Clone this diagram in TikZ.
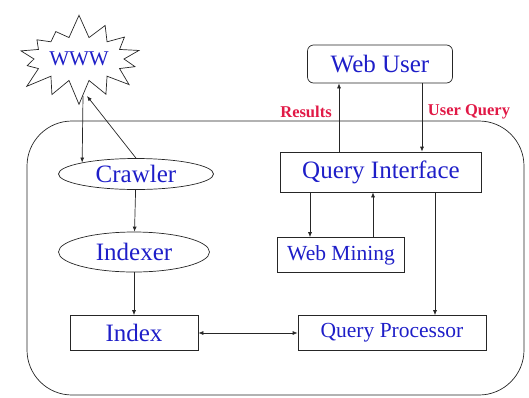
\documentclass[tikz,border=0pt]{standalone}
\usepackage{fontspec}
\setmainfont{Liberation Serif}
\usepackage{tikz}
\usetikzlibrary{arrows.meta}
\usetikzlibrary{shapes.geometric}
\usetikzlibrary{shapes.symbols}

\definecolor{labelblue}{RGB}{30,30,200}
\definecolor{labelred}{RGB}{225,25,70}

\begin{document}
\begin{tikzpicture}[x=1pt,y=-1pt,>={Latex[length=5pt,width=4pt]},black!85,line width=0.7pt,
  every node/.style = {align=center, text=labelblue, draw=black!85, line width=0.7pt},
  big/.style = {font=\fontsize{25}{28}\selectfont},
  small/.style = {font=\fontsize{21.5}{24}\selectfont},
  oval/.style = {ellipse, inner sep=0pt},
  plain/.style = {rectangle, inner sep=0pt},
  tag/.style = {draw=none, text=labelred, font=\bfseries\fontsize{16.5}{19}\selectfont}]
\useasboundingbox (0,0) rectangle (529,397);

% search engine boundary
\draw[rounded corners=45pt] (27,121) rectangle (524,395);

\node[starburst, starburst points=14, starburst point height=24pt, random starburst=7,
      minimum width=138pt, minimum height=92pt, inner sep=0pt,
      font=\fontsize{21}{24}\selectfont] (www) at (79,59) {WWW};

\node[oval, big, minimum width=155pt, minimum height=31pt] (crawler) at (136,174) {Crawler};
\node[oval, big, minimum width=151pt, minimum height=40pt] (indexer) at (134,252) {Indexer};
\node[plain, big, minimum width=128pt, minimum height=35pt] (index) at (134,333) {Index};

\node[plain, big, rounded corners=6pt, minimum width=145pt, minimum height=38pt] (webuser) at (380,64) {Web User};
\node[plain, big, minimum width=201pt, minimum height=40pt] (qi) at (381,172) {Query Interface};
\node[plain, small, minimum width=127pt, minimum height=35pt] (webmining) at (341,255) {Web Mining};
\node[plain, small, minimum width=188pt, minimum height=35pt] (qp) at (392,333) {Query Processor};

\node[tag] (results) at (306,112) {Results};
\node[tag] (userquery) at (469,112) {User Query};

% crawling
\draw[->] ([shift={(4,37)}]www.center) -- (crawler.168);
\draw[->] (crawler.north) -- ([shift={(8,37)}]www.center);
\draw[->] (crawler) -- (indexer);
\draw[->] (indexer) -- (index);
\draw[<->] (index) -- (qp);

% querying
\draw[->] ([xshift=-42pt]qi.north) -- ([xshift=-42pt]qi.north |- webuser.south);
\draw[->] ([xshift=42pt]webuser.south) -- ([xshift=42pt]webuser.south |- qi.north);
\draw[->] ([xshift=-31pt]webmining.north |- qi.south) -- ([xshift=-31pt]webmining.north);
\draw[->] ([xshift=32pt]webmining.north) -- ([xshift=32pt]webmining.north |- qi.south);
\draw[->] ([xshift=43pt]qp.north |- qi.south) -- ([xshift=43pt]qp.north);
\end{tikzpicture}
\end{document}
